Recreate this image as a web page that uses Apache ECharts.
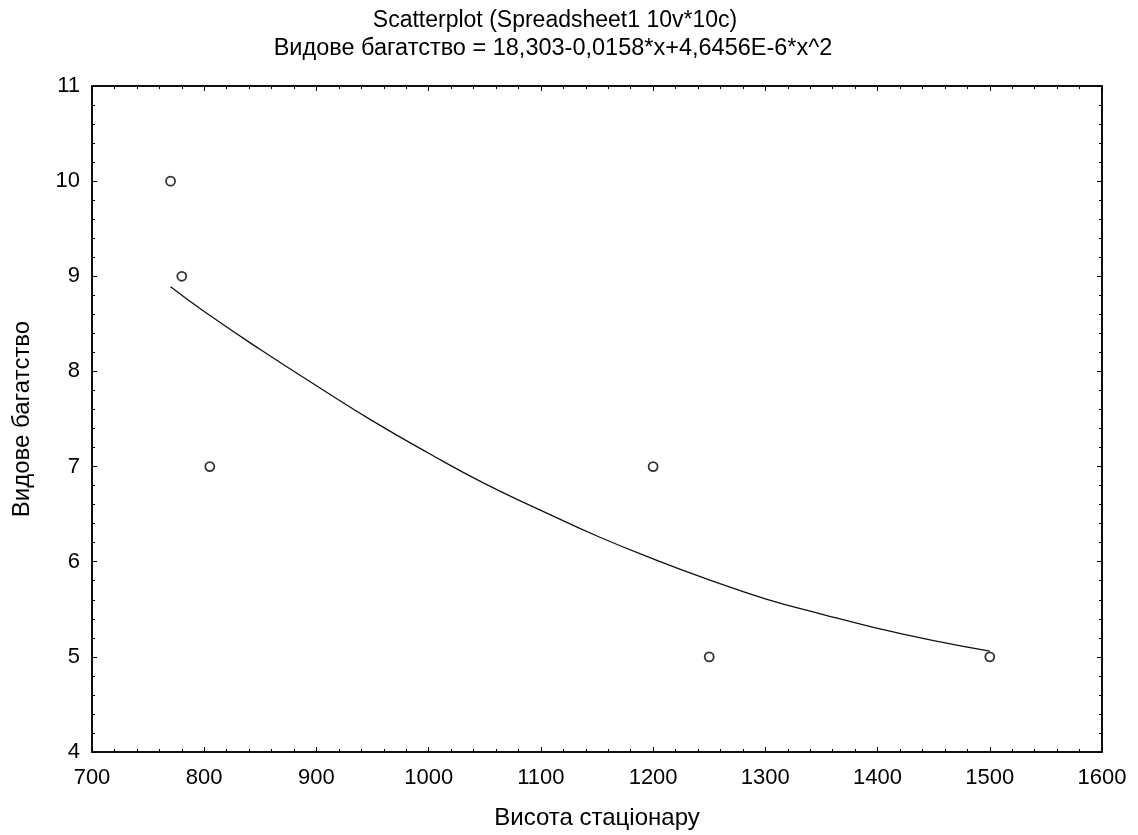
<!DOCTYPE html>
<html>
<head>
<meta charset="utf-8">
<script src="https://cdn.jsdelivr.net/npm/echarts@6/dist/echarts.min.js"></script>
<style>
html,body{margin:0;padding:0;background:#fff;}
#c{width:1138px;height:835px;}
</style>
</head>
<body>
<div id="c"></div>
<script>
// Observed points
const pointX = [770, 780, 805, 1200, 1250, 1500];
const pointY = [10, 9, 7, 7, 5, 5];
// Fitted curve
const curveX = [770, 800, 850, 900, 950, 1000, 1050, 1100, 1150, 1200, 1250, 1300, 1350, 1400, 1450, 1500];
const curveY = [8.89, 8.63, 8.23, 7.85, 7.48, 7.14, 6.82, 6.54, 6.27, 6.03, 5.81, 5.61, 5.45, 5.30, 5.17, 5.06];

const titleText = 'Scatterplot (Spreadsheet1 10v*10c)';
const subtitleText = 'Видове багатство = 18,303-0,0158*x+4,6456E-6*x^2';
const xName = 'Висота стаціонару';
const yName = 'Видове багатство';

const FONT = '"Liberation Sans", Arial, sans-serif';
const chart = echarts.init(document.getElementById('c'), null, {renderer: 'canvas'});

const tickStyle = {show: true, inside: true, length: 5, lineStyle: {color: '#000', width: 1}};
const minorStyle = {show: true, splitNumber: 5, length: 3, lineStyle: {color: '#000', width: 1}};
const plain = v => String(v);

chart.setOption({
  backgroundColor: '#fff',
  animation: false,
  title: [
    {text: titleText, left: 550, top: 4, textAlign: 'center',
     textStyle: {fontFamily: FONT, fontSize: 23, fontWeight: 'normal', color: '#000'}},
    {text: subtitleText, left: 548, top: 32, textAlign: 'center',
     textStyle: {fontFamily: FONT, fontSize: 23.5, fontWeight: 'normal', color: '#000'}}
  ],
  grid: {left: 92, right: 36, top: 86, bottom: 83, show: true, borderColor: '#000', borderWidth: 1.5, backgroundColor: 'transparent'},
  xAxis: [{
    type: 'value', min: 700, max: 1600, interval: 100, position: 'bottom',
    name: xName, nameLocation: 'middle', nameGap: 54,
    nameTextStyle: {fontFamily: FONT, fontSize: 24, color: '#000'},
    axisLine: {show: true, onZero: false, lineStyle: {color: '#000', width: 1.5}},
    axisTick: tickStyle, minorTick: minorStyle,
    axisLabel: {fontFamily: FONT, fontSize: 22, color: '#000', margin: 15, formatter: plain},
    splitLine: {show: false}
  }, {
    type: 'value', min: 700, max: 1600, interval: 100, position: 'top',
    axisLine: {show: true, onZero: false, lineStyle: {color: '#000', width: 1.5}},
    axisTick: tickStyle, minorTick: minorStyle,
    axisLabel: {show: false}, splitLine: {show: false}
  }],
  yAxis: [{
    type: 'value', min: 4, max: 11, interval: 1, position: 'left',
    name: yName, nameLocation: 'middle', nameGap: 58, nameRotate: 90,
    nameTextStyle: {fontFamily: FONT, fontSize: 24, color: '#000'},
    axisLine: {show: true, onZero: false, lineStyle: {color: '#000', width: 1.5}},
    axisTick: tickStyle, minorTick: minorStyle,
    axisLabel: {fontFamily: FONT, fontSize: 22, color: '#000', margin: 12, formatter: plain},
    splitLine: {show: false}
  }, {
    type: 'value', min: 4, max: 11, interval: 1, position: 'right',
    axisLine: {show: true, onZero: false, lineStyle: {color: '#000', width: 1.5}},
    axisTick: tickStyle, minorTick: minorStyle,
    axisLabel: {show: false}, splitLine: {show: false}
  }],
  series: [{
    type: 'line', xAxisIndex: 0, yAxisIndex: 0,
    data: curveX.map((x, i) => [x, curveY[i]]),
    smooth: true, showSymbol: false, symbol: 'none',
    lineStyle: {color: '#111', width: 1.3}, z: 2
  }, {
    type: 'scatter', xAxisIndex: 0, yAxisIndex: 0,
    data: pointX.map((x, i) => [x, pointY[i]]),
    symbol: 'circle', symbolSize: 9,
    itemStyle: {color: '#fff', borderColor: '#000', borderWidth: 1.8}, z: 3
  }]
});
</script>
</body>
</html>
